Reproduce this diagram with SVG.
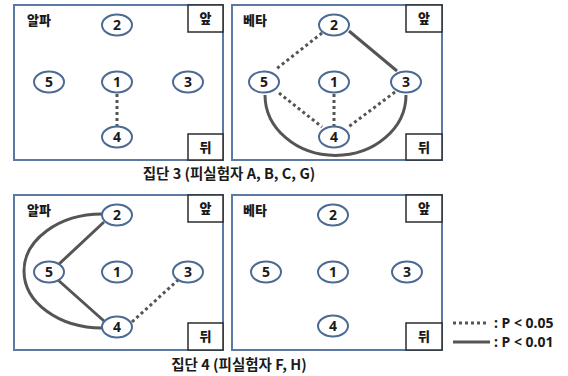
<svg xmlns="http://www.w3.org/2000/svg" width="568" height="376" viewBox="0 0 568 376">
<style>
.panel{fill:#fff;stroke:#5b7aa3;stroke-width:2}
.tag{fill:#fff;stroke:#2b2b2b;stroke-width:1.5}
.node{fill:#fff;stroke:#4c6a94;stroke-width:2}
.num{font-family:"Noto Sans","Liberation Sans",sans-serif;font-weight:bold;font-size:14px;fill:#1a1a1a;text-anchor:middle}
.kr{font-family:"Noto Sans CJK KR",sans-serif;font-weight:900;font-size:13px;fill:#1a1a1a}
.tagt{font-family:"Noto Sans CJK KR",sans-serif;font-weight:900;font-size:13px;fill:#1a1a1a;text-anchor:middle}
.cap{font-family:"Noto Sans CJK KR",sans-serif;font-weight:bold;font-size:14.5px;fill:#1a1a1a;text-anchor:middle}
.leg{font-family:"Noto Sans","Liberation Sans",sans-serif;font-weight:bold;font-size:14px;fill:#1a1a1a}
.solid{fill:none;stroke:#555;stroke-width:3}
.dot{fill:none;stroke:#555;stroke-width:3;stroke-dasharray:3 3}
</style>
<rect width="568" height="376" fill="#fff"/>
<g id="panels">
<rect class="panel" x="14" y="5" width="209" height="155"/>
<rect class="panel" x="232" y="5" width="210" height="155"/>
<rect class="panel" x="14" y="195" width="209" height="155"/>
<rect class="panel" x="232" y="195" width="210" height="155"/>
</g>
<g id="tags">
<rect class="tag" x="188" y="5" width="35" height="27"/><text class="tagt" x="205.5" y="23">앞</text>
<rect class="tag" x="188" y="134" width="35" height="26"/><text class="tagt" x="205.5" y="152">뒤</text>
<rect class="tag" x="406" y="5" width="36" height="27"/><text class="tagt" x="424" y="23">앞</text>
<rect class="tag" x="406" y="134" width="36" height="26"/><text class="tagt" x="424" y="152">뒤</text>
<rect class="tag" x="188" y="195" width="35" height="27"/><text class="tagt" x="205.5" y="213">앞</text>
<rect class="tag" x="188" y="323" width="35" height="27"/><text class="tagt" x="205.5" y="341">뒤</text>
<rect class="tag" x="406" y="195" width="36" height="27"/><text class="tagt" x="424" y="213">앞</text>
<rect class="tag" x="406" y="323" width="36" height="27"/><text class="tagt" x="424" y="341">뒤</text>
</g>
<g id="labels">
<text class="kr" x="27" y="25">알파</text>
<text class="kr" x="243" y="25">베타</text>
<text class="kr" x="27" y="215">알파</text>
<text class="kr" x="243" y="215">베타</text>
</g>
<g id="connectors">
<line class="dot" x1="117" y1="94" x2="117" y2="126"/>
<line class="dot" x1="322" y1="33" x2="275" y2="70"/>
<line class="solid" x1="349" y1="31" x2="397" y2="71"/>
<line class="dot" x1="279" y1="93" x2="322" y2="127"/>
<line class="dot" x1="334" y1="94" x2="334" y2="126"/>
<line class="dot" x1="395" y1="92" x2="347" y2="128"/>
<path class="solid" d="M265,95 A70,60 0 0 0 406,95"/>
<line class="solid" x1="104" y1="222" x2="58" y2="265"/>
<line class="solid" x1="58" y1="280" x2="104" y2="321"/>
<path class="solid" d="M102,214 A78,57 0 0 0 102,328"/>
<line class="dot" x1="132" y1="322" x2="178" y2="280"/>
</g>
<g id="nodes">
<g id="a3-2"><ellipse class="node" cx="117" cy="25" rx="15" ry="10.5"/><text class="num" x="117" y="30">2</text></g>
<g id="a3-5"><ellipse class="node" cx="49" cy="82" rx="15" ry="10.5"/><text class="num" x="49" y="87">5</text></g>
<g id="a3-1"><ellipse class="node" cx="117" cy="82" rx="15" ry="10.5"/><text class="num" x="117" y="87">1</text></g>
<g id="a3-3"><ellipse class="node" cx="188" cy="82" rx="15" ry="10.5"/><text class="num" x="188" y="87">3</text></g>
<g id="a3-4"><ellipse class="node" cx="117" cy="137" rx="15" ry="10.5"/><text class="num" x="117" y="142">4</text></g>
<g id="b3-2"><ellipse class="node" cx="334" cy="25" rx="15" ry="10.5"/><text class="num" x="334" y="30">2</text></g>
<g id="b3-5"><ellipse class="node" cx="264" cy="82" rx="15" ry="10.5"/><text class="num" x="264" y="87">5</text></g>
<g id="b3-1"><ellipse class="node" cx="334" cy="82" rx="15" ry="10.5"/><text class="num" x="334" y="87">1</text></g>
<g id="b3-3"><ellipse class="node" cx="406" cy="82" rx="15" ry="10.5"/><text class="num" x="406" y="87">3</text></g>
<g id="b3-4"><ellipse class="node" cx="334" cy="137" rx="15" ry="10.5"/><text class="num" x="334" y="142">4</text></g>
<g id="a4-2"><ellipse class="node" cx="117" cy="215" rx="15" ry="10.5"/><text class="num" x="117" y="220">2</text></g>
<g id="a4-5"><ellipse class="node" cx="49" cy="272" rx="15" ry="10.5"/><text class="num" x="49" y="277">5</text></g>
<g id="a4-1"><ellipse class="node" cx="117" cy="272" rx="15" ry="10.5"/><text class="num" x="117" y="277">1</text></g>
<g id="a4-3"><ellipse class="node" cx="188" cy="272" rx="15" ry="10.5"/><text class="num" x="188" y="277">3</text></g>
<g id="a4-4"><ellipse class="node" cx="117" cy="327" rx="15" ry="10.5"/><text class="num" x="117" y="332">4</text></g>
<g id="b4-2"><ellipse class="node" cx="333" cy="215" rx="15" ry="10.5"/><text class="num" x="333" y="220">2</text></g>
<g id="b4-5"><ellipse class="node" cx="266" cy="272" rx="15" ry="10.5"/><text class="num" x="266" y="277">5</text></g>
<g id="b4-1"><ellipse class="node" cx="333" cy="272" rx="15" ry="10.5"/><text class="num" x="333" y="277">1</text></g>
<g id="b4-3"><ellipse class="node" cx="407" cy="272" rx="15" ry="10.5"/><text class="num" x="407" y="277">3</text></g>
<g id="b4-4"><ellipse class="node" cx="333" cy="326" rx="15" ry="10.5"/><text class="num" x="333" y="331">4</text></g>
</g>
<g id="captions">
<text class="cap" x="229" y="179">집단 3 (피실험자 A, B, C, G)</text>
<text class="cap" x="239" y="370">집단 4 (피실험자 F, H)</text>
</g>
<g id="legend">
<line class="dot" x1="453" y1="323" x2="489" y2="323"/>
<text class="leg" x="494" y="328">: P &lt; 0.05</text>
<line class="solid" x1="453" y1="342" x2="490" y2="342"/>
<text class="leg" x="494" y="347">: P &lt; 0.01</text>
</g>
</svg>
